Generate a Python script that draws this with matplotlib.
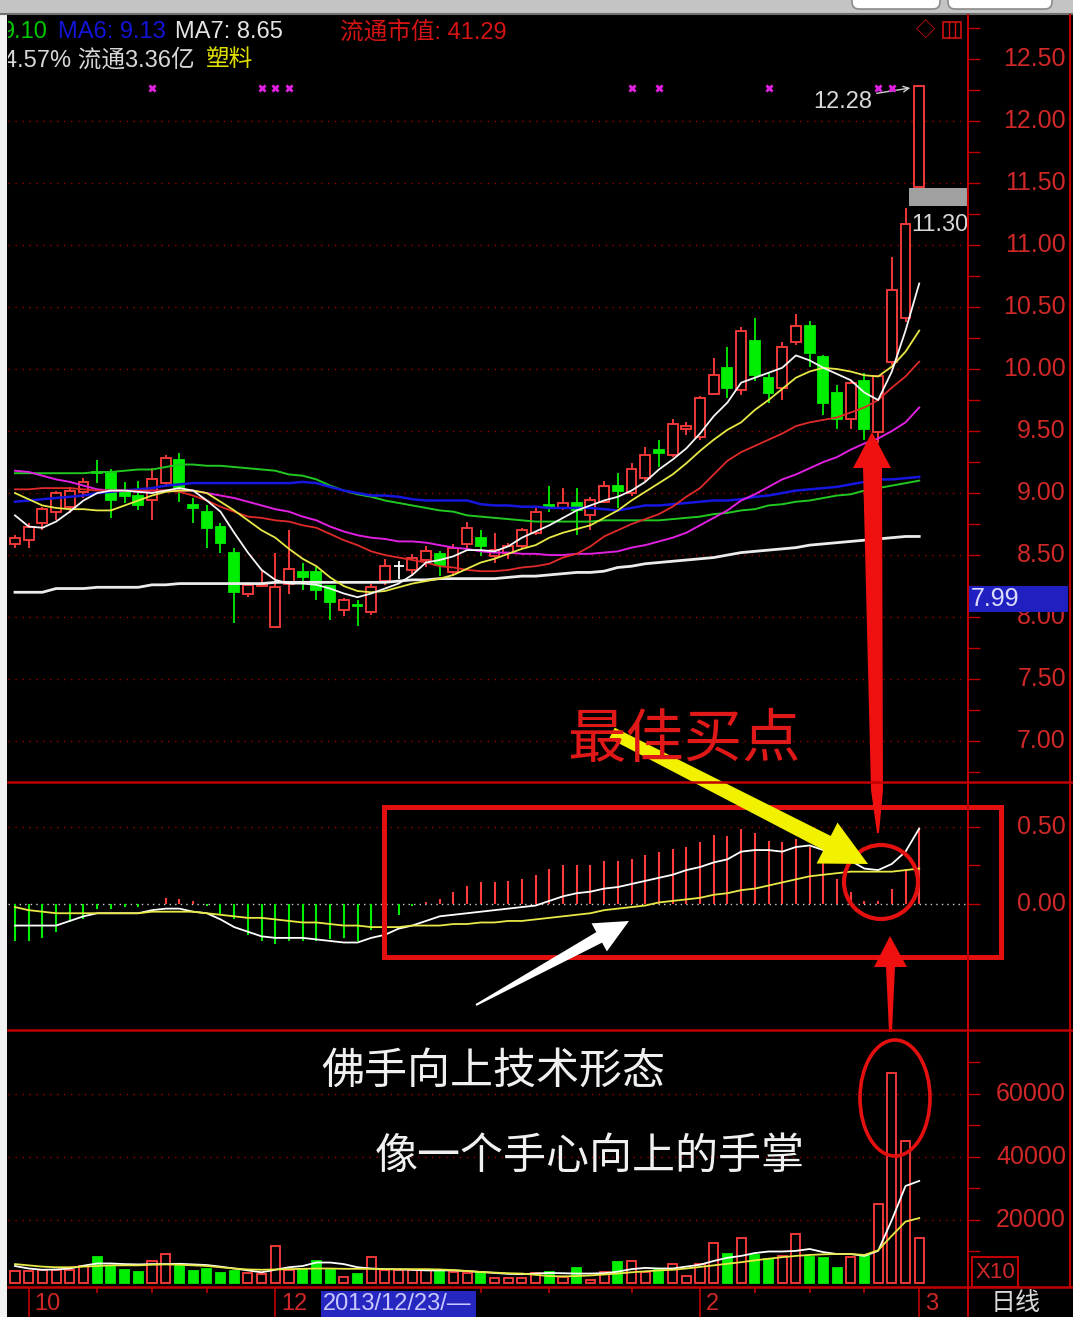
import numpy as np
import matplotlib.pyplot as plt
import matplotlib.transforms as mtransforms
from matplotlib.patches import Rectangle, Ellipse, Polygon, FancyBboxPatch

plt.rcParams['font.family'] = ['Liberation Sans', 'Noto Sans CJK SC', 'DejaVu Sans']

# daily candles, oldest first
opens = [8.59, 8.62, 8.76, 8.85, 8.89, 9.01, 9.17, 9.16, 9.02, 8.98,
         8.94, 9.08, 9.27, 8.90, 8.85, 8.73, 8.52, 8.19, 8.25, 7.92,
         8.27, 8.36, 8.36, 8.25, 8.06, 8.10, 8.04, 8.29, 8.41, 8.38,
         8.46, 8.51, 8.36, 8.59, 8.64, 8.49, 8.52, 8.57, 8.68, 8.90,
         8.88, 8.92, 8.82, 8.93, 9.06, 9.00, 9.12, 9.35, 9.31, 9.52,
         9.45, 9.80, 10.01, 9.83, 10.23, 9.93, 9.85, 10.22, 10.35, 10.10,
         9.81, 9.60, 9.90, 9.49, 10.06, 10.41, 11.47]
closes = [8.64, 8.73, 8.87, 9.00, 9.02, 9.09, 9.16, 8.94, 8.98, 8.90,
          9.11, 9.28, 9.05, 8.88, 8.72, 8.60, 8.20, 8.26, 8.27, 8.24,
          8.39, 8.32, 8.22, 8.12, 8.14, 8.09, 8.24, 8.41, 8.41, 8.48,
          8.53, 8.42, 8.56, 8.72, 8.57, 8.54, 8.57, 8.70, 8.85, 8.89,
          8.92, 8.86, 8.94, 9.06, 9.02, 9.19, 9.31, 9.32, 9.56, 9.54,
          9.77, 9.95, 9.85, 10.31, 9.95, 9.81, 10.18, 10.35, 10.13, 9.73,
          9.60, 9.89, 9.52, 9.94, 10.64, 11.17, 12.28]
highs = [8.66, 8.76, 8.89, 9.02, 9.05, 9.12, 9.27, 9.19, 9.09, 9.10,
         9.20, 9.31, 9.32, 8.96, 8.90, 8.76, 8.56, 8.28, 8.38, 8.52,
         8.70, 8.44, 8.40, 8.26, 8.15, 8.14, 8.27, 8.47, 8.45, 8.51,
         8.57, 8.53, 8.59, 8.77, 8.70, 8.68, 8.60, 8.72, 8.88, 9.06,
         9.04, 9.04, 8.97, 9.10, 9.16, 9.24, 9.37, 9.43, 9.60, 9.57,
         9.78, 10.09, 10.18, 10.34, 10.41, 9.97, 10.22, 10.44, 10.39, 10.11,
         9.87, 9.90, 9.97, 9.95, 10.90, 11.30, 12.28]
lows = [8.56, 8.56, 8.70, 8.78, 8.84, 8.96, 9.08, 8.80, 8.92, 8.86,
        8.78, 9.05, 8.93, 8.76, 8.56, 8.52, 7.95, 8.16, 8.24, 7.92,
        8.19, 8.22, 8.14, 7.98, 8.01, 7.93, 8.02, 8.26, 8.31, 8.33,
        8.40, 8.33, 8.33, 8.55, 8.49, 8.44, 8.47, 8.56, 8.66, 8.85,
        8.86, 8.66, 8.70, 8.92, 8.88, 8.98, 9.10, 9.21, 9.29, 9.47,
        9.43, 9.79, 9.77, 9.79, 9.90, 9.73, 9.75, 10.19, 10.02, 9.63,
        9.52, 9.52, 9.43, 9.40, 10.03, 10.38, 11.47]

# moving average lines on the price panel
ma_white = [8.82, 8.73, 8.72, 8.77, 8.85, 8.94, 9.00, 9.02, 9.02, 9.01,
            9.00, 9.02, 9.04, 9.02, 8.94, 8.85, 8.68, 8.52, 8.38, 8.30,
            8.27, 8.27, 8.26, 8.23, 8.19, 8.16, 8.19, 8.23, 8.27, 8.34,
            8.44, 8.46, 8.49, 8.54, 8.54, 8.53, 8.57, 8.64, 8.69, 8.74,
            8.80, 8.86, 8.90, 8.94, 8.97, 9.02, 9.09, 9.19, 9.27, 9.36,
            9.48, 9.62, 9.73, 9.89, 9.93, 9.97, 10.01, 10.11, 10.07, 10.01,
            9.96, 9.91, 9.81, 9.75, 9.98, 10.31, 10.69]
ma_yellow = [9.00, 8.95, 8.90, 8.88, 8.87, 8.87, 8.86, 8.86, 8.90, 8.94,
             8.98, 9.01, 9.02, 9.02, 9.00, 8.93, 8.86, 8.78, 8.70, 8.64,
             8.55, 8.47, 8.41, 8.32, 8.25, 8.21, 8.20, 8.21, 8.24, 8.27,
             8.29, 8.31, 8.34, 8.39, 8.44, 8.47, 8.51, 8.55, 8.58, 8.64,
             8.68, 8.71, 8.74, 8.80, 8.86, 8.94, 9.01, 9.08, 9.15, 9.24,
             9.34, 9.43, 9.51, 9.57, 9.67, 9.75, 9.84, 9.93, 9.98, 10.01,
             10.00, 9.98, 9.95, 9.94, 10.02, 10.14, 10.31]
ma_red = [9.03, 9.03, 9.04, 9.04, 9.04, 9.03, 9.02, 9.02, 9.02, 9.02,
          9.02, 9.02, 9.01, 8.98, 8.94, 8.89, 8.85, 8.81, 8.80, 8.78,
          8.77, 8.74, 8.72, 8.67, 8.62, 8.58, 8.53, 8.50, 8.48, 8.46,
          8.44, 8.41, 8.40, 8.38, 8.37, 8.37, 8.38, 8.40, 8.41, 8.43,
          8.48, 8.51, 8.57, 8.65, 8.70, 8.75, 8.79, 8.83, 8.89, 8.97,
          9.04, 9.15, 9.26, 9.33, 9.38, 9.43, 9.48, 9.54, 9.57, 9.59,
          9.61, 9.65, 9.69, 9.75, 9.85, 9.94, 10.06]
ma_magenta = [9.18, 9.17, 9.14, 9.11, 9.09, 9.06, 9.03, 9.02, 9.02, 9.01,
              9.02, 9.02, 9.02, 9.02, 9.00, 8.98, 8.96, 8.93, 8.90, 8.87,
              8.85, 8.81, 8.78, 8.73, 8.69, 8.66, 8.64, 8.63, 8.61, 8.61,
              8.60, 8.58, 8.56, 8.55, 8.53, 8.52, 8.52, 8.51, 8.51, 8.50,
              8.50, 8.51, 8.51, 8.52, 8.53, 8.56, 8.58, 8.61, 8.64, 8.68,
              8.74, 8.80, 8.86, 8.94, 8.99, 9.05, 9.11, 9.15, 9.20, 9.25,
              9.29, 9.35, 9.40, 9.44, 9.50, 9.57, 9.69]
ma_blue = [8.93, 8.94, 8.95, 8.96, 8.97, 8.98, 9.00, 9.01, 9.02, 9.03,
           9.04, 9.06, 9.07, 9.08, 9.08, 9.08, 9.08, 9.08, 9.08, 9.08,
           9.08, 9.09, 9.08, 9.05, 9.02, 9.00, 8.98, 8.98, 8.97, 8.95,
           8.94, 8.94, 8.94, 8.94, 8.91, 8.90, 8.90, 8.89, 8.89, 8.88,
           8.88, 8.88, 8.88, 8.87, 8.86, 8.88, 8.90, 8.90, 8.91, 8.92,
           8.93, 8.94, 8.94, 8.95, 8.97, 8.98, 9.00, 9.02, 9.03, 9.04,
           9.05, 9.07, 9.09, 9.11, 9.11, 9.12, 9.13]
ma_green = [9.16, 9.16, 9.16, 9.16, 9.16, 9.16, 9.17, 9.17, 9.18, 9.19,
            9.19, 9.21, 9.23, 9.23, 9.22, 9.22, 9.21, 9.20, 9.19, 9.18,
            9.15, 9.14, 9.11, 9.06, 9.02, 8.99, 8.97, 8.94, 8.92, 8.90,
            8.88, 8.86, 8.85, 8.82, 8.81, 8.80, 8.79, 8.78, 8.77, 8.77,
            8.77, 8.77, 8.77, 8.78, 8.78, 8.78, 8.78, 8.78, 8.79, 8.80,
            8.81, 8.83, 8.84, 8.86, 8.87, 8.90, 8.91, 8.93, 8.94, 8.96,
            8.98, 8.99, 9.02, 9.04, 9.06, 9.08, 9.10]
ma_long = [8.20, 8.20, 8.20, 8.23, 8.23, 8.23, 8.24, 8.24, 8.24, 8.24,
           8.26, 8.26, 8.27, 8.27, 8.27, 8.27, 8.27, 8.27, 8.27, 8.28,
           8.28, 8.28, 8.28, 8.28, 8.28, 8.28, 8.28, 8.28, 8.29, 8.30,
           8.30, 8.31, 8.31, 8.31, 8.31, 8.31, 8.32, 8.33, 8.33, 8.34,
           8.35, 8.36, 8.36, 8.37, 8.40, 8.41, 8.43, 8.44, 8.45, 8.46,
           8.47, 8.48, 8.50, 8.52, 8.53, 8.54, 8.55, 8.56, 8.58, 8.59,
           8.60, 8.61, 8.62, 8.63, 8.64, 8.65, 8.65]
signal_days = [10, 18, 19, 20, 45, 47, 55, 63, 64]

# MACD panel
macd_hist = [-0.24, -0.24, -0.22, -0.18, -0.12, -0.10, -0.03, -0.03, -0.02, -0.02,
             0.00, 0.04, 0.03, 0.02, -0.01, -0.07, -0.10, -0.20, -0.24, -0.26,
             -0.24, -0.24, -0.24, -0.23, -0.22, -0.24, -0.17, -0.12, -0.07, -0.01,
             0.01, 0.03, 0.08, 0.12, 0.14, 0.14, 0.15, 0.16, 0.19, 0.23,
             0.25, 0.25, 0.25, 0.28, 0.28, 0.29, 0.32, 0.34, 0.36, 0.37,
             0.40, 0.45, 0.44, 0.49, 0.46, 0.41, 0.40, 0.42, 0.37, 0.28,
             0.16, 0.08, 0.02, 0.02, 0.10, 0.23, 0.49]
dif = [-0.14, -0.14, -0.14, -0.14, -0.11, -0.08, -0.06, -0.06, -0.06, -0.06,
       -0.04, -0.03, -0.03, -0.05, -0.06, -0.10, -0.15, -0.18, -0.21, -0.22,
       -0.22, -0.22, -0.23, -0.24, -0.25, -0.25, -0.22, -0.20, -0.16, -0.14,
       -0.11, -0.08, -0.07, -0.06, -0.05, -0.04, -0.03, -0.02, -0.01, 0.02,
       0.05, 0.07, 0.08, 0.10, 0.11, 0.13, 0.15, 0.17, 0.19, 0.22,
       0.24, 0.27, 0.29, 0.34, 0.35, 0.35, 0.34, 0.37, 0.38, 0.35,
       0.31, 0.28, 0.23, 0.22, 0.26, 0.34, 0.49]
dea = [-0.02, -0.04, -0.05, -0.06, -0.06, -0.06, -0.06, -0.06, -0.06, -0.06,
       -0.05, -0.05, -0.05, -0.05, -0.06, -0.07, -0.08, -0.09, -0.09, -0.10,
       -0.11, -0.12, -0.12, -0.13, -0.14, -0.14, -0.15, -0.15, -0.15, -0.14,
       -0.14, -0.14, -0.13, -0.13, -0.12, -0.12, -0.11, -0.11, -0.10, -0.09,
       -0.08, -0.07, -0.06, -0.04, -0.03, -0.02, -0.01, 0.01, 0.02, 0.03,
       0.04, 0.06, 0.07, 0.09, 0.10, 0.12, 0.14, 0.16, 0.18, 0.19,
       0.20, 0.21, 0.21, 0.21, 0.21, 0.22, 0.23]

# volume panel
volume = [3700, 3700, 4000, 4000, 4000, 5300, 8400, 5300, 4200, 3400,
          7000, 9200, 5300, 3700, 4400, 3100, 3700, 3100, 2900, 11600,
          4000, 4400, 7000, 4000, 1800, 2900, 8400, 4000, 4000, 4000,
          4000, 4000, 3400, 3100, 3400, 1500, 1500, 1500, 3100, 3600,
          2000, 4700, 1000, 3600, 6600, 7100, 3600, 4200, 6000, 2300,
          6000, 12800, 9300, 14200, 9000, 7700, 8500, 15500, 8200, 8000,
          4700, 8200, 9000, 25200, 66800, 45200, 14200]
vol_ma5 = [5400, 4600, 4200, 4300, 4600, 5500, 6200, 6200, 6000, 5900,
           6000, 6000, 6100, 5900, 5700, 5200, 4600, 4000, 3400, 4200,
           5000, 5400, 6500, 6500, 6000, 5000, 4600, 4400, 4300, 4200,
           4000, 4000, 4000, 3800, 3500, 3200, 2900, 2800, 3000, 3200,
           3100, 3000, 3000, 3100, 3600, 4400, 4800, 4600, 4600, 5200,
           5800, 7000, 8000, 8600, 9500, 10000, 10000, 10200, 10800, 9800,
           9200, 9200, 8600, 10200, 20000, 30800, 32400]
vol_ma10 = [6000, 5600, 5200, 5000, 5000, 5200, 5400, 5600, 5600, 5600,
            5800, 5900, 5800, 5600, 5400, 5000, 4600, 4300, 4200, 4300,
            4400, 4500, 4600, 4600, 4500, 4500, 4500, 4400, 4400, 4400,
            4400, 4300, 4100, 3800, 3500, 3300, 3100, 3000, 2600, 2200,
            2100, 2200, 2400, 2700, 3000, 3400, 3700, 4000, 4200, 4600,
            5100, 5600, 6100, 6600, 7200, 7700, 8200, 8600, 8900, 9100,
            9200, 9200, 8900, 10400, 15000, 19500, 20600]

price_ticks = [7.0, 7.5, 8.0, 8.5, 9.0, 9.5, 10.0, 10.5, 11.0, 11.5, 12.0, 12.5]
price_minor = [6.75, 7.25, 7.75, 8.25, 8.75, 9.25, 9.75, 10.25, 10.75, 11.25, 11.75, 12.25, 12.75]
macd_ticks = [0.0, 0.5]
vol_ticks = [20000, 40000, 60000]
month_days = [1, 19, 50, 66]
month_labels = ['10', '12', '2', '3']
week_days = [6, 10, 14, 34, 39, 45, 54, 58, 62]

W, H = 1073, 1317
RED = '#c00000'
LBL = '#d02828'
UP = '#ff3c3c'
DN = '#00ee00'
XL = (-0.51, 69.56)

fig = plt.figure(figsize=(W / 100, H / 100), dpi=100, facecolor='black')

ov = fig.add_axes([0, 0, 1, 1], zorder=5)
ov.set_xlim(0, W)
ov.set_ylim(H, 0)
ov.axis('off')


def panel(y0, y1, ylim, major, minor):
    ax = fig.add_axes([8 / W, 1 - y1 / H, 960 / W, (y1 - y0) / H])
    ax.set_facecolor('black')
    for s in ax.spines.values():
        s.set_visible(False)
    ax.set_xlim(*XL)
    ax.set_ylim(*ylim)
    ax.set_xticks([])
    ax.yaxis.tick_right()
    ax.set_yticks(major)
    ax.set_yticks(minor, minor=True)
    ax.tick_params(axis='y', which='both', colors=RED, length=8.5, width=1,
                   direction='out', labelright=False, labelleft=False)
    return ax


def labels(ax, ticks, fmt):
    tr = mtransforms.blended_transform_factory(ov.transData, ax.transData)
    for t in ticks:
        ax.text(1066, t, fmt.format(t), transform=tr, ha='right', va='center',
                color=LBL, fontsize=18, clip_on=False)


x = np.arange(len(closes))

# ---------------- price panel
ax_p = panel(15, 782, (6.67, 12.855), price_ticks, price_minor)
labels(ax_p, price_ticks, '{:.2f}')
for g in price_ticks[:-1]:
    ax_p.axhline(g, color='#9a0000', lw=1, ls=(0, (1, 4)), zorder=0.5)

for i in x:
    o, c, h, l = opens[i], closes[i], highs[i], lows[i]
    if c > o:
        ax_p.vlines(i, c, h, color=UP, lw=1.3, zorder=2)
        ax_p.vlines(i, l, o, color=UP, lw=1.3, zorder=2)
        ax_p.add_patch(Rectangle((i - 0.36, o), 0.72, c - o, fc='black', ec=UP, lw=1.3, zorder=2.5))
    elif c < o:
        ax_p.vlines(i, l, h, color=DN, lw=1.3, zorder=2)
        ax_p.add_patch(Rectangle((i - 0.36, c), 0.72, o - c, fc=DN, ec=DN, lw=1.3, zorder=2.5))
    else:
        ax_p.vlines(i, l, h, color='white', lw=1.3, zorder=2)
        ax_p.hlines(o, i - 0.36, i + 0.36, color='white', lw=1.3, zorder=2)

for vals, col, lw in [(ma_long, '#ececec', 2.0), (ma_green, '#22c822', 1.4),
                      (ma_blue, '#1616e0', 1.8), (ma_magenta, '#e020e0', 1.4),
                      (ma_red, '#e02a2a', 1.3), (ma_yellow, '#e8e846', 1.3),
                      (ma_white, '#f6f6f6', 1.3)]:
    ax_p.plot(x, vals, color=col, lw=lw, zorder=3)

ax_p.scatter(signal_days, [12.27] * len(signal_days), marker='x', s=20,
             color='#e020e0', lw=2, zorder=4)

ax_p.text(62.6, highs[-1] - 0.04, f'{highs[-1]:.2f}', color='#d8d8d8', fontsize=17,
          ha='right', va='top', zorder=4)
ax_p.annotate('', xy=(65.55, 12.27), xytext=(62.7, 12.22),
              arrowprops=dict(arrowstyle='->', color='#d0d0d0', lw=1))
ax_p.text(65.45, highs[-2] - 0.05, f'{highs[-2]:.2f}', color='#d8d8d8', fontsize=17,
          ha='left', va='top', zorder=4, clip_on=True)

# header lines
hdr = [(2, 32, f'{ma_green[-1]:.2f}', '#00c800'),
       (58, 32, f'MA6: {ma_blue[-1]:.2f}', '#1414d8'),
       (175, 32, f'MA7: {ma_long[-1]:.2f}', '#e4e4e4'),
       (340, 32, '流通市值: 41.29', '#d41414'),
       (4, 60, '4.57% 流通3.36亿', '#d8d8d8'),
       (206, 60, '塑料', '#e0e000')]
for px, py, s, col in hdr:
    ax_p.text(px, py, s, transform=ov.transData, color=col, fontsize=17,
              ha='left', va='center', clip_on=True)

# ---------------- MACD panel
ax_m = panel(782, 1030, (-0.818, 0.792), macd_ticks, [0.25])
labels(ax_m, macd_ticks, '{:.2f}')
ax_m.axhline(0.5, color='#9a0000', lw=1, ls=(0, (1, 4)), zorder=0.5)
ax_m.axhline(0.0, color='#d0d0d0', lw=1, ls=(0, (1, 3)), zorder=0.5)
ax_m.vlines(x, 0, macd_hist, colors=[UP if v > 0 else DN for v in macd_hist], lw=1.5, zorder=2)
ax_m.plot(x, dif, color='white', lw=1.3, zorder=3)
ax_m.plot(x, dea, color='#e8e846', lw=1.3, zorder=3)

# ---------------- volume panel
ax_v = panel(1030, 1287, (-1270, 80317), vol_ticks, [10000, 30000, 50000, 70000])
labels(ax_v, vol_ticks, '{:.0f}')
for g in vol_ticks:
    ax_v.axhline(g, color='#9a0000', lw=1, ls=(0, (1, 4)), zorder=0.5)
up = [c >= o for o, c in zip(opens, closes)]
ax_v.bar(x, volume, width=0.66, color=['black' if u else DN for u in up],
         edgecolor=[UP if u else DN for u in up], lw=1.3, zorder=2)
ax_v.plot(x, vol_ma5, color='white', lw=1.3, zorder=3)
ax_v.plot(x, vol_ma10, color='#e8e846', lw=1.3, zorder=3)

# ---------------- date strip
ax_d = panel(1287, 1317, (0, 1), [], [])
ax_d.vlines(month_days, 0, 1, color=RED, lw=1.2)
ax_d.vlines(week_days, 0.8, 1, color=RED, lw=1.2)
for d, s in zip(month_days, month_labels):
    ax_d.text(d + 0.4, 0.42, s, color=LBL, fontsize=17, ha='left', va='center')

# ---------------- frame, widgets and annotations (pixel coordinates)
ov.add_patch(Rectangle((0, 0), W, 14, fc='#c4c4c4', ec='none'))
ov.plot([0, W], [14, 14], color='#707070', lw=1.5)
ov.add_patch(FancyBboxPatch((852, -10), 88, 19, boxstyle='round,pad=0,rounding_size=7',
                            fc='white', ec='#8a8a8a', lw=1.2))
ov.add_patch(FancyBboxPatch((948, -10), 104, 19, boxstyle='round,pad=0,rounding_size=7',
                            fc='white', ec='#8a8a8a', lw=1.2))
ov.add_patch(Rectangle((0, 14), 7, H - 14, fc='#f2f2f2', ec='none'))

for xx in (968, 1070):
    ov.plot([xx, xx], [15, 1317 if xx == 968 else 1287], color=RED, lw=1.5)
for yy in (782, 1030, 1287):
    ov.plot([8, W], [yy, yy], color=RED, lw=1.8)

ov.text(926, 30, '◇', color='#d01010', fontsize=14, ha='center', va='center')
ov.add_patch(Rectangle((943, 22), 18, 16, fc='none', ec='#d01010', lw=1.2))
ov.plot([949, 949], [22, 38], color='#d01010', lw=1)
ov.plot([955, 955], [22, 38], color='#d01010', lw=1)

ov.add_patch(Rectangle((909, 188), 59, 18, fc='#a0a0a0', ec='none'))
ov.add_patch(Rectangle((969, 586), 99, 26, fc='#2020c0', ec='none'))
ov.text(971, 599, '7.99', color='#dcdcff', fontsize=18, ha='left', va='center')

ov.add_patch(Rectangle((972, 1257), 46, 30, fc='none', ec=RED, lw=1.5))
ov.text(975, 1272, 'X10', color=LBL, fontsize=16, ha='left', va='center')
ov.add_patch(Rectangle((321, 1291), 155, 26, fc='#2626c0', ec='none'))
ov.text(323, 1304, '2013/12/23/—', color='#c8c8ff', fontsize=17, ha='left', va='center')
ov.text(1016, 1303, '日线', color='#d8d8d8', fontsize=18, ha='center', va='center')

ov.add_patch(Rectangle((384, 807), 617, 150, fill=False, ec='#e41010', lw=3.6))
ov.add_patch(Ellipse((881, 882), 74, 74, fill=False, ec='#e41010', lw=3.0))
ov.add_patch(Ellipse((895, 1098), 70, 116, fill=False, ec='#e41010', lw=2.6))


def arrow(x0, y0, x1, y1, wt, ws, wh, hl, color):
    p0 = np.array([x0, y0], float)
    p1 = np.array([x1, y1], float)
    u = (p1 - p0) / np.hypot(*(p1 - p0))
    n = np.array([-u[1], u[0]])
    b = p1 - u * hl
    pts = [p0 + n * wt / 2, b + n * ws / 2, b + n * wh / 2, p1,
           b - n * wh / 2, b - n * ws / 2, p0 - n * wt / 2]
    ov.add_patch(Polygon(pts, closed=True, fc=color, ec='none'))


arrow(612, 733, 868, 864, 12, 16, 46, 46, '#f2f200')
arrow(476, 1005, 629, 921, 2, 12, 32, 34, 'white')
ov.add_patch(Polygon([(872, 432), (891, 468), (882, 468), (883, 790), (879, 833),
                      (877, 833), (871, 790), (863, 468), (853, 468)], fc='#f01010', ec='none'))
ov.add_patch(Polygon([(890, 936), (907, 967), (895, 967), (892, 1032), (889, 1032),
                      (886, 967), (874, 967)], fc='#f01010', ec='none'))

ov.text(684, 740, '最佳买点', color='#e01818', fontsize=42, ha='center', va='center',
        family='Noto Sans CJK SC')
ov.text(493, 1072, '佛手向上技术形态', color='#f0f0f0', fontsize=31, ha='center', va='center',
        family='Noto Sans CJK SC')
ov.text(590, 1157, '像一个手心向上的手掌', color='#f0f0f0', fontsize=31, ha='center', va='center',
        family='Noto Sans CJK SC')

fig.savefig('out.png', dpi=100, facecolor=fig.get_facecolor())
